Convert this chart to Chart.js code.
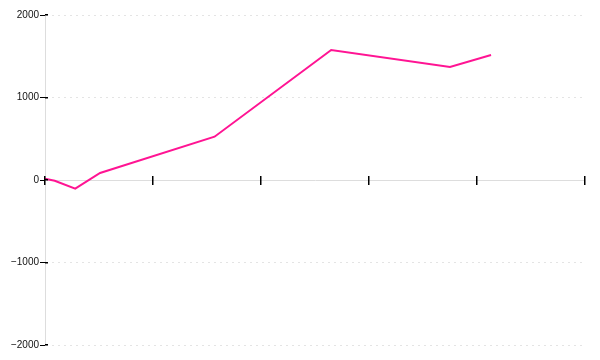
<!DOCTYPE html>
<html>
<head>
<meta charset="utf-8">
<script src="https://cdn.jsdelivr.net/npm/chart.js@4/dist/chart.umd.min.js"></script>
<style>
  html, body { margin: 0; padding: 0; background: #fff; }
  #wrap { width: 600px; height: 360px; }
</style>
</head>
<body>
<div id="wrap"><canvas id="chart"></canvas></div>
<script>
'use strict';

// series
var xValues = [0, 0.09, 0.28, 0.51, 1.57, 2.65, 3.75, 4.13];
var yValues = [15, -10, -105, 85, 525, 1575, 1370, 1515];

// axis ranges / ticks
var xTicks = [0, 1, 2, 3, 4, 5];
var yTicks = [-2000, -1000, 0, 1000, 2000];

var INK = '#111';
var AXIS = '#dddddd';
var GRID = '#e4e4e4';

function points() {
    var out = [];
    for (var i = 0; i < xValues.length; i++) {
        out.push({x: xValues[i], y: yValues[i]});
    }
    return out;
}

function fmt(v) {
    // real minus sign, no thousands separator
    return v < 0 ? '\u2212' + Math.abs(v) : String(v);
}

// extra axes, only there for tick marks that cross the axis lines
function crossAxis(horizontal, len, step) {
    return {
        type: 'linear',
        axis: horizontal ? 'x' : 'y',
        position: horizontal ? {y: 0} : {x: 0},
        min: horizontal ? xTicks[0] : yTicks[0],
        max: horizontal ? xTicks[xTicks.length - 1] : yTicks[yTicks.length - 1],
        border: {display: false},
        grid: {drawOnChartArea: false, tickLength: len, tickColor: '#000', lineWidth: 1.5, z: 1},
        ticks: {display: false, stepSize: step}
    };
}

new Chart(document.getElementById('chart'), {
    type: 'line',
    data: {
        datasets: [{
            data: points(),
            borderColor: '#ff1493',
            borderWidth: 2,
            pointRadius: 0,
            tension: 0,
            fill: false
        }]
    },
    options: {
        responsive: true,
        maintainAspectRatio: false,
        animation: false,
        layout: {padding: {left: 0, right: 15, top: 15, bottom: 15}},
        plugins: {legend: {display: false}, tooltip: {enabled: false}},
        scales: {
            x: {
                type: 'linear',
                position: {y: 0},
                min: xTicks[0],
                max: xTicks[xTicks.length - 1],
                border: {display: false},
                grid: {drawOnChartArea: false, tickLength: 5, tickColor: '#000', lineWidth: 1.5, z: 1},
                ticks: {display: false, stepSize: 1}
            },
            x2: crossAxis(true, -4, 1),
            y: {
                type: 'linear',
                position: 'left',
                min: yTicks[0],
                max: yTicks[yTicks.length - 1],
                afterFit: function(scale) { scale.width = 45; },
                border: {
                    display: true,
                    color: AXIS,
                    width: 1,
                    dash: function(ctx) { return ctx.tick && ctx.tick.value === 0 ? [] : [2, 4]; }
                },
                grid: {
                    color: function(ctx) { return ctx.tick && ctx.tick.value === 0 ? AXIS : GRID; },
                    tickColor: '#000',
                    tickLength: 5,
                    tickBorderDash: []
                },
                ticks: {
                    stepSize: 1000,
                    padding: 1,
                    color: INK,
                    font: {family: 'Liberation Sans', size: 10},
                    callback: function(v) { return fmt(v); }
                }
            },
            y2: crossAxis(false, -3, 1000)
        }
    }
});
</script>
</body>
</html>
